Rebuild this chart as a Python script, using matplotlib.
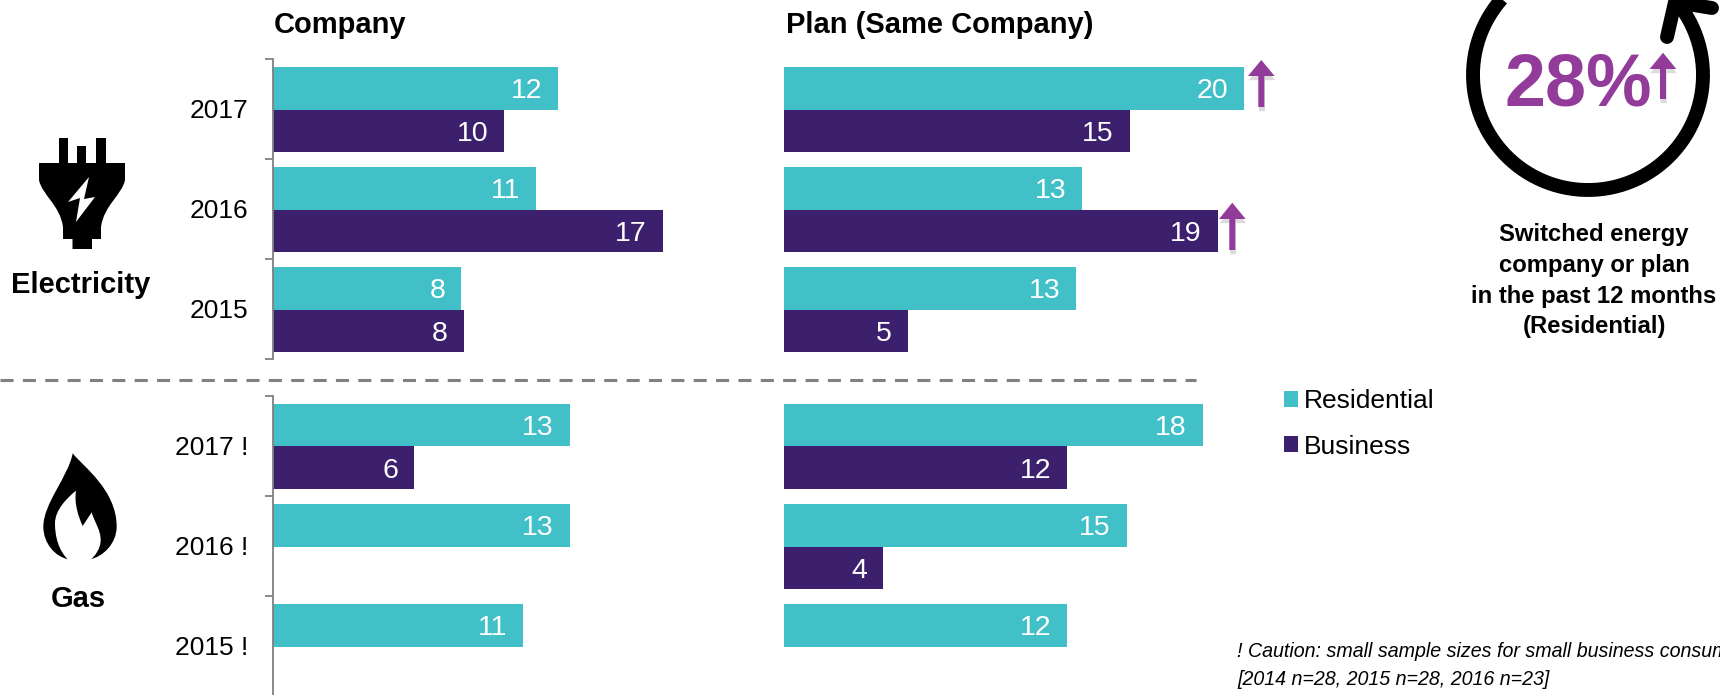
import numpy as np
import matplotlib
matplotlib.use("Agg")
import matplotlib.pyplot as plt
from matplotlib.patches import PathPatch, Polygon, Rectangle
from matplotlib.path import Path
import matplotlib.patheffects as pe

plt.rcParams['font.family'] = ['Liberation Sans', 'DejaVu Sans']
plt.rcParams['lines.scale_dashes'] = False

TEAL = '#42C0C8'
PURPLE = '#3C206E'
ACCENT = '#933B9B'
GREY = '#808080'

elec_years = ['2017', '2016', '2015']
gas_years = ['2017 !', '2016 !', '2015 !']
series_names = ['Residential', 'Business']

elec_company_res = [12.15, 11.23, 8.04]
elec_company_bus = [9.87, 16.6, 8.15]
elec_plan_res = [20.0, 12.96, 12.7]
elec_plan_bus = [15.04, 18.85, 5.4]
gas_company_res = [12.64, 12.64, 10.68]
gas_company_bus = [6.04, np.nan, np.nan]
gas_plan_res = [18.2, 14.9, 12.3]
gas_plan_bus = [12.3, 4.3, np.nan]

W, H = 1720, 695
fig = plt.figure(figsize=(W / 100, H / 100), dpi=100, facecolor='white')


def make_axes(x0, x1, y0, y1):
    return fig.add_axes([x0 / W, 1 - y1 / H, (x1 - x0) / W, (y1 - y0) / H])


def panel(box, xmax, labels, res, bus, show_axis):
    ax = make_axes(*box)
    ax.patch.set_alpha(0)
    pos = np.arange(3) + 0.505
    h = 0.425
    b1 = ax.barh(pos - h / 2, res, h, color=TEAL, label=series_names[0])
    b2 = ax.barh(pos + h / 2, bus, h, color=PURPLE, label=series_names[1])
    for bars in (b1, b2):
        for r in bars:
            v = r.get_width()
            if np.isnan(v):
                continue
            ax.annotate(f'{v:.0f}', (v, r.get_y() + r.get_height() / 2),
                        xytext=(-11.5, 0), textcoords='offset points',
                        ha='right', va='center_baseline', color='white', fontsize=20.5)
    ax.set_xlim(0, xmax)
    ax.set_ylim(3, 0)
    ax.set_xticks([])
    for s in ('top', 'right', 'bottom'):
        ax.spines[s].set_visible(False)
    if show_axis:
        ax.spines['left'].set_color(GREY)
        ax.spines['left'].set_linewidth(1.3)
        ax.set_yticks(pos - 0.01)
        ax.set_yticklabels(labels, fontsize=19, color='black')
        ax.set_yticks(np.arange(4), minor=True)
        ax.tick_params(axis='y', which='major', length=0, pad=17.5)
        ax.tick_params(axis='y', which='minor', length=5.8, width=1.3, color=GREY)
    else:
        ax.spines['left'].set_visible(False)
        ax.set_yticks([])
    return ax, b1, b2


ax1, h_res, h_bus = panel((272.5, 742.5, 59, 359), 20, elec_years, elec_company_res, elec_company_bus, True)
panel((784, 1244, 59, 359), 20, elec_years, elec_plan_res, elec_plan_bus, False)
panel((272.5, 742.5, 396, 696), 20, gas_years, gas_company_res, gas_company_bus, True)
panel((784, 1244, 396, 696), 20, gas_years, gas_plan_res, gas_plan_bus, False)

# overlay in pixel coordinates for decorations and free text
ov = fig.add_axes([0, 0, 1, 1], zorder=10)
ov.set_xlim(0, W)
ov.set_ylim(H, 0)
ov.axis('off')
ov.patch.set_alpha(0)

ov.text(274, 33, 'Company', fontsize=21, fontweight='bold', va='baseline')
ov.text(786, 33, 'Plan (Same Company)', fontsize=21, fontweight='bold', va='baseline')
ov.text(80.5, 292.7, 'Electricity', fontsize=21, fontweight='bold', ha='center', va='baseline')
ov.text(78, 607.3, 'Gas', fontsize=21, fontweight='bold', ha='center', va='baseline')

ov.plot([0, 1196], [380.3, 380.3], color=GREY, lw=2.2, ls=(0, (9.4, 6.7)))

for line, yb in zip(['Switched energy', 'company or plan', 'in the past 12 months', '(Residential)'],
                    [240.7, 271.7, 302.7, 333.5]):
    ov.text(1594, yb, line, fontsize=17.2, fontweight='bold', ha='center', va='baseline')

ov.text(1237.3, 656.7, '! Caution: small sample sizes for small business consumers',
        fontsize=14.1, style='italic', va='baseline', clip_on=True)
ov.text(1237.3, 685, '[2014 n=28, 2015 n=28, 2016 n=23]', fontsize=14.1, style='italic', va='baseline')

ov.text(1578, 105, '28%', fontsize=53, fontweight='bold', color=ACCENT, ha='center', va='baseline')

leg = fig.legend([h_res, h_bus], series_names, loc='upper left',
                 bbox_to_anchor=(1284 / W, 1 - 389.5 / H), frameon=False, fontsize=19,
                 handlelength=0.53, handleheight=0.53, handletextpad=0.24,
                 labelspacing=0.80, borderpad=0, borderaxespad=0, labelcolor='black')


def up_arrow(xc, tip, base, bottom):
    pts = [(xc, tip), (xc + 13.3, base), (xc + 3, base), (xc + 3, bottom),
           (xc - 3, bottom), (xc - 3, base), (xc - 13.3, base)]
    ov.add_patch(Polygon(pts, closed=True, fc=ACCENT, ec='none',
                         path_effects=[pe.SimplePatchShadow(offset=(0.5, -3), shadow_rgbFace='#888888', alpha=0.3),
                                       pe.Normal()]))


up_arrow(1261.3, 60, 76, 107)
up_arrow(1232.3, 202.7, 219, 250)
up_arrow(1663, 52.7, 69, 99)

# circular arrow
cx, cy, r = 1588, 75, 115
ang = np.radians(np.linspace(100, 402, 300))
ov.plot(cx + r * np.cos(ang), cy - r * np.sin(ang), color='black', lw=10, solid_capstyle='butt')
ov.plot([1667, 1675, 1712], [37, 2, 8], color='black', lw=10,
        solid_capstyle='round', solid_joinstyle='miter')

# plug icon
ov.add_patch(Rectangle((58.5, 138), 9.5, 26, fc='black', ec='none'))
ov.add_patch(Rectangle((77, 146), 9, 18, fc='black', ec='none'))
ov.add_patch(Rectangle((96, 138), 9.5, 26, fc='black', ec='none'))
plug_v = [(39, 163), (125, 163), (125, 180), (122, 195), (104, 205), (101, 227), (101, 239), (92, 239),
          (92, 249), (72.5, 249), (72.5, 239), (63, 239), (63, 227), (60, 205), (42, 195), (39, 180), (39, 163)]
plug_c = [Path.MOVETO, Path.LINETO, Path.LINETO, Path.CURVE4, Path.CURVE4, Path.CURVE4, Path.LINETO, Path.LINETO,
          Path.LINETO, Path.LINETO, Path.LINETO, Path.LINETO, Path.LINETO, Path.CURVE4, Path.CURVE4, Path.CURVE4,
          Path.CLOSEPOLY]
ov.add_patch(PathPatch(Path(plug_v, plug_c), fc='black', ec='none'))
ov.add_patch(Polygon([(89, 177), (68, 202), (80, 198), (76, 222), (95, 197), (84, 199)],
                     closed=True, fc='white', ec='none'))


# flame icon (zoomed coordinates converted)
def fz(p):
    return (p[0] / 3, 360 + p[1] / 3)


C4 = Path.CURVE4
flame = [(218, 280), (250, 320), (350, 390), (350, 500), (350, 550), (310, 590), (270, 598),
         (205, 598), (165, 590), (130, 550), (130, 500), (130, 430), (205, 350), (218, 280)]
flame_c = [Path.MOVETO, C4, C4, C4, C4, C4, C4, Path.LINETO, C4, C4, C4, C4, C4, C4]
ov.add_patch(PathPatch(Path([fz(p) for p in flame], flame_c), fc='black', ec='none'))
inner = [(205, 600), (175, 570), (165, 530), (165, 490), (165, 450), (200, 415), (228, 392),
         (222, 430), (235, 470), (248, 498), (275, 457), (285, 490), (302, 510), (302, 540),
         (302, 565), (285, 590), (270, 600), (205, 600)]
inner_c = [Path.MOVETO, C4, C4, C4, C4, C4, C4, C4, C4, C4, Path.LINETO, C4, C4, C4, C4, C4, C4, Path.LINETO]
ov.add_patch(PathPatch(Path([fz(p) for p in inner], inner_c), fc='white', ec='none'))

fig.savefig('out.png', dpi=100, facecolor='white')
